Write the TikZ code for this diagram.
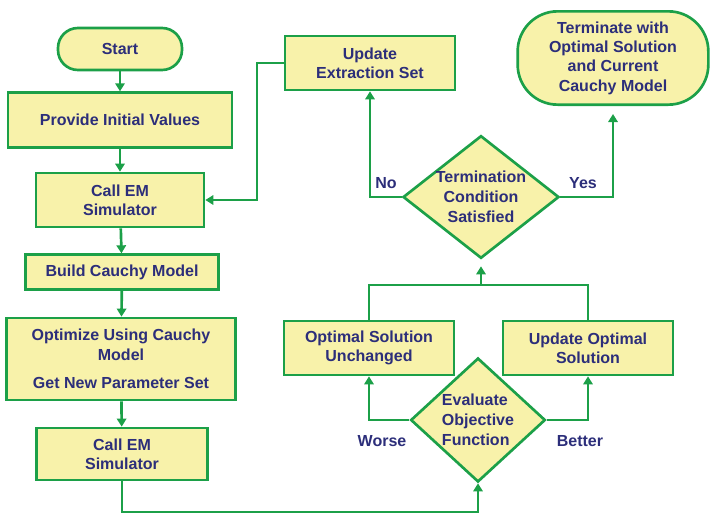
\documentclass[tikz,border=0pt]{standalone}
\usepackage{fontspec}
\setmainfont{Liberation Sans}
\usetikzlibrary{arrows.meta,shapes.geometric}
\definecolor{boxfill}{RGB}{248,242,170}
\definecolor{boxline}{RGB}{28,160,72}
\definecolor{txt}{RGB}{44,46,122}
\tikzset{
  every node/.style={font=\fontsize{12}{14.5}\selectfont\bfseries, text=txt, align=center},
  procbox/.style={draw=boxline, fill=boxfill, line width=2pt, inner sep=0pt},
  termbox/.style={procbox},
  decbox/.style={draw=boxline, fill=boxfill, line width=2pt, diamond, inner sep=0pt, aspect=1.2},
  conn/.style={draw=boxline, line width=2pt},
  arr/.style={conn, -{Triangle[length=6pt,width=7pt]}},
  lbl/.style={inner sep=0pt}
}
\begin{document}
\begin{tikzpicture}[x=0.75pt,y=-0.75pt]
\useasboundingbox (0,0) rectangle (710,514);
% left column
\node[termbox, rounded corners=15pt, minimum width=93pt, minimum height=31.5pt] (start) at (120,49) {Start};
\node[procbox, minimum width=168pt, minimum height=41pt] (provide) at (120,120) {Provide Initial Values};
\node[procbox, minimum width=126pt, minimum height=40.5pt] (call1) at (120,200) {Call EM\\Simulator};
\node[procbox, minimum width=145pt, minimum height=26pt] (build) at (122,272) {Build Cauchy Model};
\node[procbox, minimum width=172pt, minimum height=61.5pt] (optim) at (121,359) {Optimize Using Cauchy\\Model\\[7pt]Get New Parameter Set};
\node[procbox, minimum width=128pt, minimum height=39pt] (call2) at (122,454) {Call EM\\Simulator};
% right part
\node[procbox, minimum width=127.5pt, minimum height=40.5pt] (ues) at (370,63) {Update\\Extraction Set};
\node[termbox, rounded corners=30pt, minimum width=143pt, minimum height=70pt] (fin) at (613,58) {Terminate with\\Optimal Solution\\and Current\\Cauchy Model};
\node[decbox, minimum width=117pt, minimum height=92pt,
      label={[font=\fontsize{12}{15}\selectfont\bfseries,text=txt,align=center]center:Termination\\Condition\\Satisfied}] (term) at (481,197) {};
\node[procbox, minimum width=127.5pt, minimum height=40.5pt] (osu) at (369,348) {Optimal Solution\\Unchanged};
\node[procbox, minimum width=127.5pt, minimum height=40.5pt] (uos) at (588,348) {Update Optimal\\Solution};
\node[decbox, minimum width=101pt, minimum height=93pt,
      label={[font=\fontsize{12}{15}\selectfont\bfseries,text=txt,align=left]center:Evaluate\\Objective\\Function}] (eval) at (478,420) {};
% labels
\node[lbl] (lno) at (386,183) {No};
\node[lbl] (lyes) at (583,183) {Yes};
\node[lbl] (lworse) at (382,441) {Worse};
\node[lbl] (lbetter) at (580,441) {Better};
% coordinates
\coordinate (c1) at (257,200);
\coordinate (c2) at (122,512);
\coordinate (m) at (481,285);
% connectors
\draw[arr] (start) -- (provide);
\draw[arr] (provide) -- (call1);
\draw[arr] (ues.west) -| (c1) -- (call1.east);
\draw[arr] (call1) -- (build);
\draw[arr] (build) -- (optim);
\draw[arr] (optim) -- (call2);
\draw[arr] (call2.south) -- (c2) -| (eval.south);
\draw[arr] (eval.west) -| (osu.south);
\draw[arr] (eval.east) -| (uos.south);
\draw[conn] (osu.north) |- (m);
\draw[conn] (uos.north) |- (m);
\draw[arr, shorten >=5pt] (m) -- (term.south);
\draw[arr] (term.west) -| (ues.south);
\draw[arr, shorten >=6pt] (term.east) -| (fin.south);
\end{tikzpicture}
\end{document}
